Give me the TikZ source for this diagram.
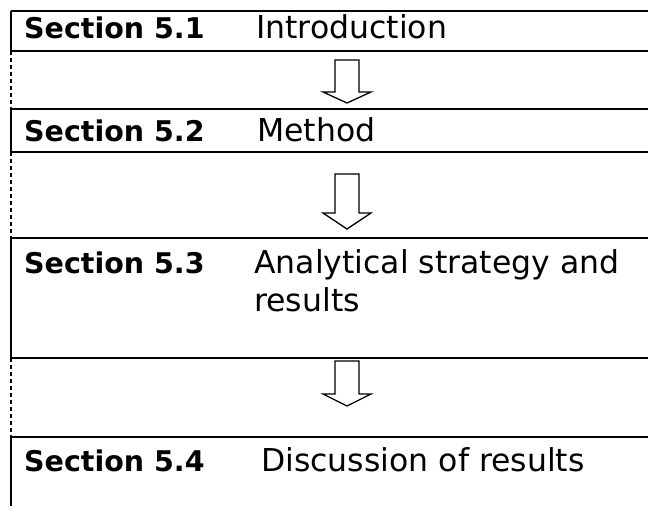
\documentclass[tikz,border=0pt]{standalone}
\usepackage{fontspec}
\setmainfont{DejaVu Sans}
\begin{document}
\begin{tikzpicture}[x=1bp,y=-1bp,
  rule/.style={line width=2.2bp},
  side/.style={line width=1.8bp},
  gapline/.style={line width=1.2bp, dash pattern=on 4bp off 3bp},
  blockarrow/.style={draw, line width=1.3bp, fill=white, line join=miter},
  sec/.style={anchor=base west, inner sep=0pt, font=\fontsize{28.5bp}{34bp}\selectfont\bfseries},
  txt/.style={anchor=base west, inner sep=0pt, font=\fontsize{31.5bp}{38bp}\selectfont}]
\useasboundingbox (0,0) rectangle (648,506);
% horizontal rules
\foreach \yy/\nm in {11/a,51/b,109/c,152/d,238/e,358/f,437/g}{
  \coordinate (L\nm) at (11,\yy);
  \coordinate (R\nm) at (648,\yy);
  \draw[rule] (L\nm) -- (R\nm);
}
\coordinate (Lend) at (11,506);
% left edges
\draw[side] (La) -- (Lb);
\draw[side] (Lc) -- (Ld);
\draw[side] (Le) -- (Lf);
\draw[side] (Lg) -- (Lend);
\draw[gapline] (Lb) -- (Lc);
\draw[gapline] (Ld) -- (Le);
\draw[gapline] (Lf) -- (Lg);
% texts
\node[sec] (s1) at (24,39) {Section 5.1};
\node[txt] (t1) at (256,39) {Introduction};
\node[sec] (s2) at (24,142) {Section 5.2};
\node[txt] (t2) at (257,142) {Method};
\node[sec] (s3) at (24,273) {Section 5.3};
\node[txt] (t3) at (254,273) {\begin{tabular}[t]{@{}l@{}}Analytical strategy and\\[0.5bp]results\end{tabular}};
\node[sec] (s4) at (24,471) {Section 5.4};
\node[txt] (t4) at (261,471) {Discussion of results};
% block arrows
\foreach \top/\base/\tip in {60/92/103, 174/213/229, 361/394/406}{
  \draw[blockarrow] (335,\top) -- (359,\top) -- (359,\base) -- (371,\base)
    -- (347,\tip) -- (323,\base) -- (335,\base) -- cycle;
}
\end{tikzpicture}
\end{document}
